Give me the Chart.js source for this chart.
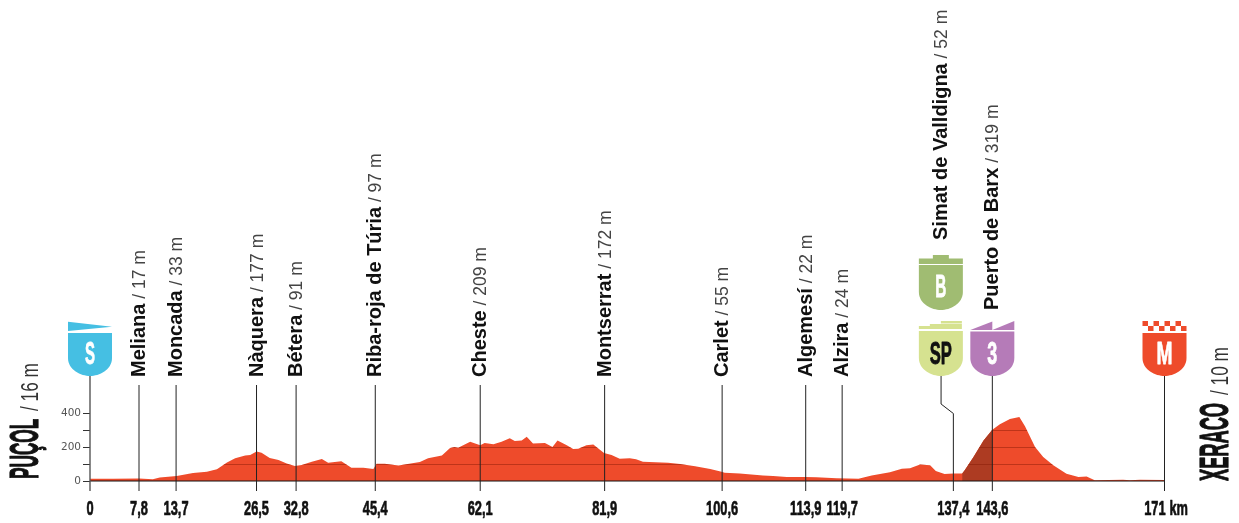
<!DOCTYPE html>
<html>
<head>
<meta charset="utf-8">
<style>
  html, body { margin: 0; padding: 0; background: #fff; }
  canvas { display: block; }
</style>
<script src="https://cdn.jsdelivr.net/npm/chart.js"></script>
</head>
<body>
<canvas id="profile" width="1239" height="523"></canvas>
<script>
// profile
const profileKm = [0, 3.7, 7.8, 10, 11.1, 13.8, 16.4, 18.6, 20.2, 21.8, 23.1, 24.7, 25.5, 26.5, 27.3, 28.6, 30, 31.3, 32.6, 33.7, 35.3, 36.9, 37.9, 40, 41.6, 43.5, 45.1, 45.6, 46.9, 49.1, 52.5, 53.8, 56, 57.3, 58, 58.6, 60.5, 62.1, 62.8, 64.2, 65.5, 66.8, 67.6, 68.7, 69.5, 70.5, 72.4, 73.6, 74.4, 75.8, 76.9, 77.7, 79, 80.1, 81.8, 83, 84.3, 85.9, 86.9, 88, 92, 93.9, 96.3, 98.7, 100.5, 101, 103.4, 107.1, 108.7, 110.9, 113.8, 115.6, 118.8, 122.3, 124.4, 127.3, 129.2, 130.5, 132.1, 133.7, 134.6, 136, 137.4, 138.8, 139.2, 140.6, 142.2, 143.6, 144.8, 146.4, 147.9, 148.8, 150.4, 151.7, 153.3, 155.4, 157.3, 158.6, 159.9, 164.4, 165.5, 167.1, 171];
const profileElev = [14, 14, 15, 10, 20, 30, 47, 55, 69, 110, 134, 150, 154, 175, 167, 136, 124, 104, 89, 95, 114, 130, 108, 116, 79, 79, 71, 102, 102, 91, 112, 134, 150, 195, 201, 197, 232, 211, 225, 217, 232, 252, 236, 240, 262, 221, 225, 201, 240, 213, 189, 191, 211, 215, 165, 154, 132, 134, 128, 114, 108, 100, 87, 71, 55, 49, 45, 32, 30, 24, 24, 22, 16, 14, 32, 51, 73, 75, 98, 93, 59, 41, 45, 45, 63, 142, 240, 303, 335, 366, 378, 323, 201, 142, 93, 43, 24, 26, 4, 8, 4, 8, 6];

// towns along the route
const stopKm = [7.8, 13.7, 26.5, 32.8, 45.4, 62.1, 81.9, 100.6, 113.9, 119.7, 137.4, 143.6];
const stopNames = ['Meliana', 'Moncada', 'Nàquera', 'Bétera', 'Riba-roja de Túria', 'Cheste', 'Montserrat', 'Carlet', 'Algemesí', 'Alzira', 'Simat de Valldigna', 'Puerto de Barx'];
const stopHeights = ['17 m', '33 m', '177 m', '91 m', '97 m', '209 m', '172 m', '55 m', '22 m', '24 m', '52 m', '319 m'];

const kmTicks = [0, 7.8, 13.7, 26.5, 32.8, 45.4, 62.1, 81.9, 100.6, 113.9, 119.7, 137.4, 143.6, 171];
const elevTicks = [0, 100, 200, 300, 400];
const elevLabels = ['0', '', '200', '', '400'];

const climbStart = 138.8;
const climbEnd = 143.6;

const RED = '#EE4B2B';
const points = profileKm.map((km, i) => ({ x: km, y: profileElev[i] }));

// condensed type is not installed, so squeeze the sans face horizontally
// heavy thickens the strokes again after the squeeze
function squeezed(ctx, text, x, y, font, sx, color, align, rotated, heavy) {
  ctx.save();
  ctx.translate(x, y);
  if (rotated) ctx.rotate(-Math.PI / 2);
  ctx.scale(sx, 1);
  ctx.font = font;
  ctx.fillStyle = color;
  ctx.textAlign = align || 'center';
  ctx.textBaseline = 'alphabetic';
  ctx.fillText(text, 0, 0);
  if (heavy) {
    ctx.strokeStyle = color;
    ctx.lineWidth = heavy;
    ctx.lineJoin = 'round';
    ctx.strokeText(text, 0, 0);
  }
  ctx.restore();
}

function shield(ctx, cx, top, bottom, color) {
  const half = 22;
  const bend = bottom - 18;
  ctx.fillStyle = color;
  ctx.beginPath();
  ctx.moveTo(cx - half, top);
  ctx.lineTo(cx + half, top);
  ctx.lineTo(cx + half, bend);
  ctx.bezierCurveTo(cx + half, bottom - 6, cx + 9, bottom, cx, bottom);
  ctx.bezierCurveTo(cx - 9, bottom, cx - half, bottom - 6, cx - half, bend);
  ctx.closePath();
  ctx.fill();
}

function poly(ctx, color, pts) {
  ctx.fillStyle = color;
  ctx.beginPath();
  pts.forEach((p, i) => (i ? ctx.lineTo(p[0], p[1]) : ctx.moveTo(p[0], p[1])));
  ctx.closePath();
  ctx.fill();
}

const badgeFont = 'bold 32px "Liberation Sans"';

const profilePlugin = {
  id: 'profileDecor',
  afterDatasetsDraw(chart) {
    const { ctx, scales: { x, y }, chartArea } = chart;
    const base = y.getPixelForValue(0);
    const foot = base + 10;

    // contour lines only show inside the filled shape
    ctx.save();
    ctx.beginPath();
    points.forEach((p, i) => {
      const px = x.getPixelForValue(p.x);
      const py = y.getPixelForValue(p.y);
      if (i) ctx.lineTo(px, py); else ctx.moveTo(px, py);
    });
    ctx.lineTo(chartArea.right, base);
    ctx.lineTo(chartArea.left, base);
    ctx.closePath();
    ctx.clip();
    ctx.strokeStyle = 'rgba(130,25,5,0.45)';
    ctx.lineWidth = 1;
    [100, 200, 300].forEach((v) => {
      const py = Math.round(y.getPixelForValue(v)) + 0.5;
      ctx.beginPath();
      ctx.moveTo(chartArea.left, py);
      ctx.lineTo(chartArea.right, py);
      ctx.stroke();
    });
    ctx.restore();

    // baseline
    ctx.strokeStyle = '#111';
    ctx.lineWidth = 1.2;
    ctx.beginPath();
    ctx.moveTo(chartArea.left, base);
    ctx.lineTo(chartArea.right, base);
    ctx.stroke();

    // vertical stems
    ctx.lineWidth = 1;
    ctx.strokeStyle = '#222';
    stopKm.forEach((km, i) => {
      const px = x.getPixelForValue(km);
      ctx.beginPath();
      if (stopNames[i] === 'Simat de Valldigna') {
        ctx.moveTo(px - 12.3, 376);
        ctx.lineTo(px - 12.3, 404);
        ctx.lineTo(px, 413.5);
      } else if (stopNames[i] === 'Puerto de Barx') {
        ctx.moveTo(px, 376);
      } else {
        ctx.moveTo(px, 385);
      }
      ctx.lineTo(px, foot);
      ctx.stroke();
    });
    [0, 171].forEach((km) => {
      const px = x.getPixelForValue(km);
      ctx.strokeStyle = km ? '#222' : '#555';
      ctx.lineWidth = km ? 1 : 1.4;
      ctx.beginPath();
      ctx.moveTo(px, 376);
      ctx.lineTo(px, foot);
      ctx.stroke();
    });

    // town labels, read bottom to top
    stopKm.forEach((km, i) => {
      let px = x.getPixelForValue(km) + 6;
      let start = 377;
      if (stopNames[i] === 'Simat de Valldigna') { px -= 12; start = 240; }
      if (stopNames[i] === 'Puerto de Barx') start = 310;
      ctx.save();
      ctx.translate(px, start);
      ctx.rotate(-Math.PI / 2);
      ctx.textAlign = 'left';
      ctx.textBaseline = 'alphabetic';
      ctx.font = 'bold 20px "Liberation Sans"';
      ctx.fillStyle = '#111';
      ctx.fillText(stopNames[i], 0, 0);
      const w = ctx.measureText(stopNames[i]).width;
      ctx.font = '17.5px "Liberation Sans"';
      ctx.fillStyle = '#444';
      ctx.fillText(' / ' + stopHeights[i], w, 0);
      ctx.restore();
    });

    // km labels under the axis
    const kmFont = 'bold 21px "Liberation Sans"';
    kmTicks.forEach((km) => {
      const px = x.getPixelForValue(km);
      const label = String(km).replace('.', ',');
      if (km === 171) {
        squeezed(ctx, label, px + 1, 515, kmFont, 0.61, '#111', 'right', false, 0.7);
        squeezed(ctx, 'km', px + 5, 515, kmFont, 0.61, '#111', 'left', false, 0.7);
      } else {
        squeezed(ctx, label, px, 515, kmFont, 0.61, '#111', 'center', false, 0.7);
      }
    });

    // start and finish names
    squeezed(ctx, 'PUÇOL', 38, 479, 'bold 41px "Liberation Sans"', 0.42, '#111', 'left', true, 1.2);
    squeezed(ctx, '/ 16 m', 38, 411, '23px "Liberation Sans"', 0.75, '#333', 'left', true);
    squeezed(ctx, 'XERACO', 1228, 481, 'bold 41px "Liberation Sans"', 0.445, '#111', 'left', true, 1.2);
    squeezed(ctx, '/ 10 m', 1228, 395, '23px "Liberation Sans"', 0.75, '#333', 'left', true);

    // start badge
    const sx = x.getPixelForValue(0);
    poly(ctx, '#45BFE3', [[sx - 22, 321.7], [sx + 22, 326.7], [sx - 22, 331]]);
    shield(ctx, sx, 333, 376, '#45BFE3');
    squeezed(ctx, 'S', sx, 364, badgeFont, 0.47, '#fff', 'center', false, 0.8);

    // sprint badge
    const spx = x.getPixelForValue(137.4) - 12.5;
    poly(ctx, '#D6E290', [[spx - 22, 326], [spx - 11, 326], [spx - 11, 324], [spx + 21, 324], [spx + 21, 329], [spx - 22, 329]]);
    poly(ctx, '#D6E290', [[spx, 321], [spx + 21, 321], [spx + 21, 323.5], [spx, 323.5]]);
    shield(ctx, spx, 331, 376, '#D6E290');
    squeezed(ctx, 'SP', spx, 364, badgeFont, 0.52, '#111', 'center', false, 0.8);

    // bonus badge above it
    poly(ctx, '#A0BC72', [[spx - 22, 258.5], [spx - 8, 258.5], [spx - 8, 255], [spx + 8, 255], [spx + 8, 258.5], [spx + 22, 258.5], [spx + 22, 264], [spx - 22, 264]]);
    shield(ctx, spx, 265, 310, '#A0BC72');
    squeezed(ctx, 'B', spx, 297, badgeFont, 0.48, '#fff', 'center', false, 0.8);

    // climb badge
    const cx = x.getPixelForValue(143.6);
    poly(ctx, '#B57BB8', [[cx - 22, 330], [cx, 321.5], [cx, 330]]);
    poly(ctx, '#B57BB8', [[cx, 330], [cx + 22, 321], [cx + 22, 330]]);
    shield(ctx, cx, 331.5, 376, '#B57BB8');
    squeezed(ctx, '3', cx, 364, badgeFont, 0.56, '#fff', 'center', false, 0.8);

    // finish badge with checkered top
    const mx = x.getPixelForValue(171);
    shield(ctx, mx, 333, 376, RED);
    ctx.fillStyle = RED;
    for (let c = 0; c < 8; c++) {
      const bx = mx - 22 + c * 5.5;
      ctx.fillRect(bx, c % 2 === 0 ? 321 : 326, 5.5, 5);
    }
    squeezed(ctx, 'M', mx, 364, badgeFont, 0.6, '#fff', 'center', false, 0.8);
  },
};

new Chart(document.getElementById('profile'), {
  type: 'line',
  data: {
    datasets: [{
      data: points,
      fill: 'origin',
      backgroundColor: RED,
      borderWidth: 0,
      pointRadius: 0,
      tension: 0,
      order: 2,
    }, {
      data: points.filter((p) => p.x >= climbStart && p.x <= climbEnd),
      fill: 'origin',
      backgroundColor: '#AD3B22',
      borderWidth: 0,
      pointRadius: 0,
      tension: 0,
      order: 1,
    }],
  },
  options: {
    responsive: false,
    animation: false,
    layout: { padding: { top: 413.3, right: 74.5, left: 0, bottom: 0 } },
    plugins: { legend: { display: false }, tooltip: { enabled: false } },
    scales: {
      x: {
        type: 'linear',
        min: 0,
        max: 171,
        border: { display: false },
        grid: { display: false },
        ticks: { display: false },
        afterFit(scale) { scale.height = 42; },
      },
      y: {
        min: 0,
        max: 400,
        border: { display: false },
        grid: { drawOnChartArea: false, tickLength: 7, color: '#333', tickWidth: 1 },
        afterBuildTicks(scale) { scale.ticks = elevTicks.map((value) => ({ value })); },
        afterFit(scale) { scale.width = 90; },
        ticks: {
          padding: 2,
          color: '#555',
          font: { family: 'DejaVu Sans', size: 10.5 },
          autoSkip: false,
          callback: (value) => elevLabels[elevTicks.indexOf(value)],
        },
      },
    },
  },
  plugins: [profilePlugin],
});
</script>
</body>
</html>
